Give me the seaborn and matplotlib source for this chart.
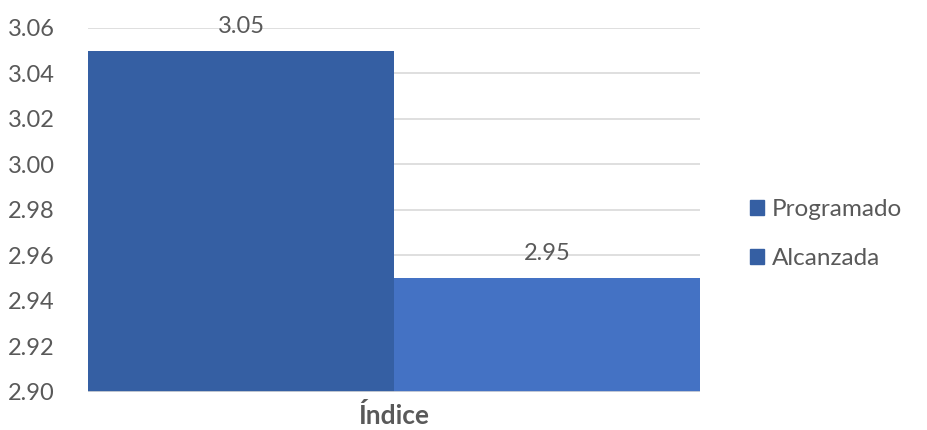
import numpy as np
import pandas as pd
import matplotlib.pyplot as plt
import seaborn as sns
from matplotlib.patches import Patch

sns.set_theme(style="white")
plt.rcParams['font.family'] = ['Lato', 'DejaVu Sans']

# Chart values
categories = ["Índice"]
series = ["Programado", "Alcanzada"]
values = [3.05, 2.95]
colors = ["#355FA3", "#4472C4"]
y_ticks = [2.90, 2.92, 2.94, 2.96, 2.98, 3.00, 3.02, 3.04, 3.06]

df = pd.DataFrame({"Indicador": categories * len(series), "Serie": series, "Valor": values})

fig = plt.figure(figsize=(9.28, 4.30), dpi=100)
ax = fig.add_axes([88 / 928, 1 - 392 / 430, (700 - 88) / 928, (392 - 28) / 430])

sns.barplot(data=df, x="Indicador", y="Valor", hue="Serie", palette=colors,
            width=1.0, saturation=1, ax=ax, legend=False, zorder=3, linewidth=0)

ax.set_ylim(y_ticks[0], y_ticks[-1])
ax.set_xlim(-0.5, 0.5)
ax.set_yticks(y_ticks)
ax.set_yticklabels([f"{t:.2f}" for t in y_ticks], color="#595959", fontsize=17)
ax.yaxis.grid(True, color="#D9D9D9", linewidth=1.2, zorder=0)
ax.set_axisbelow(True)
ax.tick_params(axis="y", length=0, pad=24)
ax.tick_params(axis="x", length=0, labelbottom=False)
for s in ax.spines.values():
    s.set_visible(False)
ax.axhline(y_ticks[0], color="#D9D9D9", linewidth=1.2, zorder=4)

# data labels
for bar, v in zip(ax.patches, values):
    ax.annotate(f"{v:.2f}", (bar.get_x() + bar.get_width() / 2, v),
                xytext=(0, 10), textcoords="offset points", ha="center", va="bottom",
                color="#595959", fontsize=17, annotation_clip=False)

ax.set_xlabel("Índice", fontsize=19, fontweight="bold", color="#595959", labelpad=8)
ax.set_ylabel("")

handles = [Patch(color=colors[0], label=series[0]), Patch(color=colors[0], label=series[1])]
fig.legend(handles=handles, loc="center left", bbox_to_anchor=(728 / 928, 1 - 234 / 430),
           frameon=False, fontsize=17.5, handlelength=0.6, handleheight=0.6,
           handletextpad=0.3, labelspacing=1.15, labelcolor="#595959")

fig.savefig("out.png", dpi=100)
